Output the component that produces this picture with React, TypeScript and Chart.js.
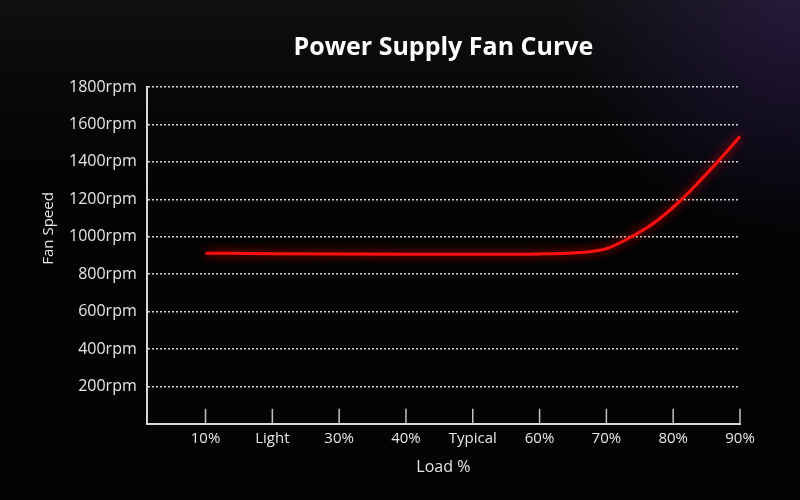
import React, { useEffect, useRef } from 'react';
import { Chart, registerables } from 'chart.js';

Chart.register(...registerables);

// load % positions of the ticks, and what each tick reads
const loadTicks = [10, 20, 30, 40, 50, 60, 70, 80, 90];
const loadLabels = ['10%', 'Light', '30%', '40%', 'Typical', '60%', '70%', '80%', '90%'];

// fan curve
const curveLoad = [10, 20, 30, 40, 50, 60, 65, 68, 70, 73, 77, 81, 86, 90];
const curveRpm = [912, 909, 907, 906, 906, 908, 913, 922, 936, 985, 1070, 1190, 1375, 1535];

const rpmMax = 1800;
const rpmStep = 200;
const yTitle = 'Fan Speed';

const bgPlugin = {
    id: 'bg',
    beforeDraw(chart) {
        const { ctx, width, height } = chart;
        ctx.save();
        ctx.fillStyle = '#030303';
        ctx.fillRect(0, 0, width, height);
        const g = ctx.createRadialGradient(width, 0, 10, width, 0, 240);
        g.addColorStop(0, 'rgba(70,40,140,0.45)');
        g.addColorStop(1, 'rgba(70,40,140,0)');
        ctx.fillStyle = g;
        ctx.fillRect(0, 0, width, height);
        const g2 = ctx.createLinearGradient(0, 0, 0, height);
        g2.addColorStop(0, 'rgba(40,40,40,0.35)');
        g2.addColorStop(0.5, 'rgba(0,0,0,0)');
        ctx.fillStyle = g2;
        ctx.fillRect(0, 0, width, height);
        ctx.restore();
    },
};

// red glow round the curve
const glowPlugin = {
    id: 'glow',
    beforeDatasetsDraw(chart) {
        chart.ctx.save();
        chart.ctx.shadowColor = 'rgba(255,0,0,0.9)';
        chart.ctx.shadowBlur = 10;
    },
    afterDatasetsDraw(chart) {
        chart.ctx.restore();
    },
};

// x ticks point up into the plot; y title sits a bit above centre
const extrasPlugin = {
    id: 'extras',
    afterDraw(chart) {
        const { ctx, chartArea } = chart;
        const x = chart.scales.x;
        ctx.save();
        ctx.strokeStyle = '#c4c4c4';
        ctx.lineWidth = 1.5;
        x.ticks.forEach((_, i) => {
            const px = x.getPixelForTick(i);
            ctx.beginPath();
            ctx.moveTo(px, chartArea.bottom);
            ctx.lineTo(px, chartArea.bottom - 15);
            ctx.stroke();
        });
        ctx.translate(49, chartArea.top + (chartArea.bottom - chartArea.top) * 0.42);
        ctx.rotate(-Math.PI / 2);
        ctx.fillStyle = '#e6e6e6';
        ctx.font = '15px "Open Sans"';
        ctx.textAlign = 'center';
        ctx.textBaseline = 'middle';
        ctx.fillText(yTitle, 0, 0);
        ctx.restore();
    },
};

const FanCurveChart = () => {
    const chartRef = useRef<HTMLCanvasElement | null>(null);
    const chartInstanceRef = useRef<Chart | null>(null);

    useEffect(() => {
        document.body.style.margin = '0';
        document.body.style.background = '#030303';
        const ctx = chartRef.current?.getContext('2d');
        if (ctx) {
            chartInstanceRef.current = new Chart(ctx, {
                type: 'line',
                data: {
                    datasets: [
                        {
                            label: yTitle,
                            data: curveLoad.map((l, i) => ({ x: l, y: curveRpm[i] })),
                            borderColor: '#ff1010',
                            borderWidth: 3,
                            pointRadius: 0,
                            cubicInterpolationMode: 'monotone',
                            clip: 6,
                        },
                    ],
                },
                options: {
                    animation: false,
                    responsive: false,
                    layout: { padding: { left: 29, right: 60, top: 0, bottom: 23 } },
                    plugins: {
                        legend: { display: false },
                        tooltip: { enabled: false },
                        title: {
                            display: true,
                            text: 'Power Supply Fan Curve',
                            color: '#ffffff',
                            fullSize: false,
                            font: { family: 'Open Sans', size: 25, weight: 'bold' },
                            padding: { top: 33, bottom: 24 },
                        },
                    },
                    scales: {
                        x: {
                            type: 'linear',
                            min: 1.2,
                            max: 90,
                            afterBuildTicks: (scale) => {
                                scale.ticks = loadTicks.map((v) => ({ value: v }));
                            },
                            ticks: {
                                color: '#e6e6e6',
                                font: { family: 'Open Sans', size: 15 },
                                padding: 6,
                                maxRotation: 0,
                                callback: (_v, i) => loadLabels[i],
                            },
                            grid: { display: false, drawTicks: false },
                            border: { display: true, color: '#d8d8d8', width: 2 },
                            title: {
                                display: true,
                                text: 'Load %',
                                color: '#e6e6e6',
                                font: { family: 'Open Sans', size: 16 },
                                padding: { top: 4, bottom: 0 },
                            },
                        },
                        y: {
                            min: 0,
                            max: rpmMax,
                            ticks: {
                                stepSize: rpmStep,
                                color: '#e6e6e6',
                                font: { family: 'Open Sans', size: 16 },
                                padding: 10,
                                callback: (v) => (v === 0 ? '' : `${v}rpm`),
                            },
                            grid: {
                                color: 'rgba(235,235,235,0.9)',
                                lineWidth: 1.5,
                                drawTicks: false,
                            },
                            border: { display: true, color: '#d8d8d8', width: 2, dash: [2, 2] },
                            title: {
                                // space is kept here; the text itself is drawn by extrasPlugin
                                display: true,
                                text: yTitle,
                                color: 'rgba(0,0,0,0)',
                                font: { family: 'Open Sans', size: 15 },
                                padding: { top: 12, bottom: 0 },
                            },
                        },
                    },
                },
                plugins: [bgPlugin, glowPlugin, extrasPlugin],
            });
        }
        return () => {
            chartInstanceRef.current?.destroy();
        };
    }, []);

    return <canvas ref={chartRef} width={800} height={500} style={{ display: 'block', width: 800, height: 500 }} />;
};

export default function App() {
    return <FanCurveChart />;
}
